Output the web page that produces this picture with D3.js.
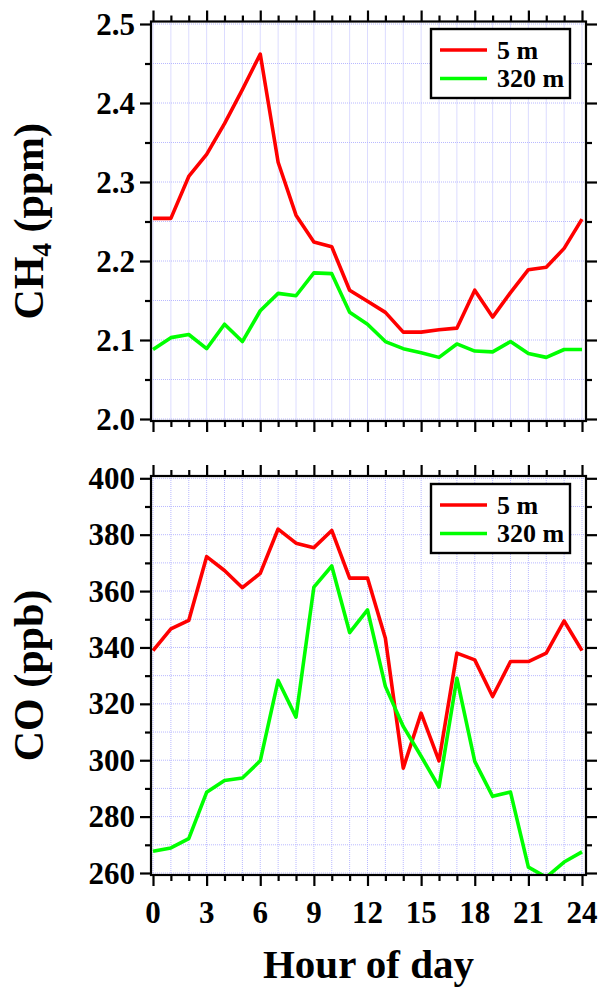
<!DOCTYPE html>
<html>
<head>
<meta charset="UTF-8">
<script src="https://d3js.org/d3.v7.min.js"></script>
<style>
  body { margin: 0; background: #fff; }
  svg text { font-family: "Liberation Serif", "Times New Roman", serif; font-weight: bold; fill: #000; }
</style>
</head>
<body>
<svg width="601" height="989"></svg>
<script>
// hour of day
const hours = d3.range(0, 25);

// CH4 (ppm)
const ch4_5m = [2.254, 2.254, 2.307, 2.335, 2.374, 2.417, 2.462, 2.325, 2.258, 2.224, 2.218, 2.163, 2.149,
  2.135, 2.110, 2.110, 2.113, 2.115, 2.163, 2.129, 2.160, 2.189, 2.192, 2.216, 2.253];
const ch4_320m = [2.088, 2.103, 2.107, 2.089, 2.120, 2.098, 2.137, 2.159, 2.156, 2.185, 2.184, 2.135, 2.120,
  2.098, 2.089, 2.084, 2.078, 2.095, 2.086, 2.085, 2.098, 2.083, 2.078, 2.088, 2.088];

// CO (ppb)
const co_5m = [338.9, 346.6, 349.6, 372.2, 367.3, 361.2, 366.3, 382.0, 377.0, 375.4, 381.5, 364.6, 364.6,
  343.3, 297.2, 316.7, 299.8, 338.0, 335.6, 322.6, 335.0, 335.0, 338.0, 349.4, 338.9];
const co_320m = [267.7, 268.9, 272.2, 288.6, 292.8, 293.7, 299.8, 328.3, 315.3, 361.4, 368.9, 345.3, 353.3,
  326.2, 312.0, 301.4, 290.5, 329.1, 299.6, 287.2, 288.7, 262.1, 258.5, 263.9, 267.5];

const xMajor = [0, 3, 6, 9, 12, 15, 18, 21, 24];
const ch4Major = [2.0, 2.1, 2.2, 2.3, 2.4, 2.5];
const ch4Minor = [2.05, 2.15, 2.25, 2.35, 2.45];
const coMajor = [260, 280, 300, 320, 340, 360, 380, 400];
const coMinor = [270, 290, 310, 330, 350, 370, 390];

const seriesNames = ["5 m", "320 m"];
const colors = ["#ff0000", "#00ff00"];

const svg = d3.select("svg");

const fL = 151, fR = 586;
const x = d3.scaleLinear().domain([0, 24]).range([153, 582]);

const panels = [
  { id: "ch4", top: 21.5, bottom: 421, domain: [2.0, 2.5], range: [419, 24],
    major: ch4Major, minor: ch4Minor, fmt: d3.format(".1f"), data: [ch4_5m, ch4_320m],
    label: "ch4", legendY: 29 },
  { id: "co", top: 476, bottom: 875, domain: [260, 400], range: [873, 478.3],
    major: coMajor, minor: coMinor, fmt: d3.format("d"), data: [co_5m, co_320m],
    label: "co", legendY: 484 }
];

panels.forEach(p => {
  const y = d3.scaleLinear().domain(p.domain).range(p.range);
  const g = svg.append("g");

  g.append("clipPath").attr("id", "clip-" + p.id)
    .append("rect").attr("x", fL).attr("y", p.top).attr("width", fR - fL).attr("height", p.bottom - p.top);

  // grid
  const grid = g.append("g").attr("stroke", "#a8a8ff").attr("stroke-width", 1)
    .attr("stroke-dasharray", "1,1").attr("opacity", 0.8);
  grid.selectAll(".gx").data(hours).join("line")
    .attr("x1", d => x(d)).attr("x2", d => x(d))
    .attr("y1", p.top).attr("y2", p.bottom);
  grid.selectAll(".gy").data(p.major.concat(p.minor)).join("line")
    .attr("x1", fL).attr("x2", fR)
    .attr("y1", d => y(d)).attr("y2", d => y(d));

  // lines
  const line = d3.line().x((d, i) => x(hours[i])).y(d => y(d));
  p.data.forEach((s, k) => {
    g.append("path").datum(s)
      .attr("clip-path", "url(#clip-" + p.id + ")")
      .attr("fill", "none").attr("stroke", colors[k]).attr("stroke-width", 3.6)
      .attr("stroke-linejoin", "round").attr("d", line);
  });

  // frame
  g.append("rect").attr("x", fL).attr("y", p.top).attr("width", fR - fL).attr("height", p.bottom - p.top)
    .attr("fill", "none").attr("stroke", "#000").attr("stroke-width", 2.2);

  // ticks
  const tickStyle = sel => {
    sel.select(".domain").remove();
    sel.selectAll(".tick line").attr("stroke", "#000").attr("stroke-width", 2.2);
  };
  const minorHours = hours.filter(h => h % 3 != 0);
  [[d3.axisTop, p.top], [d3.axisBottom, p.bottom]].forEach(([ax, yy]) => {
    g.append("g").attr("transform", `translate(0,${yy})`)
      .call(ax(x).tickValues(xMajor).tickSize(11).tickFormat("")).call(tickStyle);
    g.append("g").attr("transform", `translate(0,${yy})`)
      .call(ax(x).tickValues(minorHours).tickSize(6).tickFormat("")).call(tickStyle);
  });
  [[d3.axisLeft, fL], [d3.axisRight, fR]].forEach(([ax, xx]) => {
    g.append("g").attr("transform", `translate(${xx},0)`)
      .call(ax(y).tickValues(p.major).tickSize(11).tickFormat("")).call(tickStyle);
    g.append("g").attr("transform", `translate(${xx},0)`)
      .call(ax(y).tickValues(p.minor).tickSize(6).tickFormat("")).call(tickStyle);
  });

  // y tick labels
  g.selectAll(".ylab").data(p.major).join("text")
    .attr("x", 135).attr("y", d => y(d)).attr("dy", "0.34em")
    .attr("text-anchor", "end").style("font-size", "31px")
    .text(d => p.fmt(d));

  // y axis title
  const cy = (p.top + p.bottom) / 2;
  const t = g.append("text").attr("transform", `translate(43,${cy}) rotate(-90)`)
    .attr("text-anchor", "middle").style("font-size", "42px");
  if (p.label == "ch4") {
    t.append("tspan").text("CH");
    t.append("tspan").text("4").style("font-size", "27px").attr("dy", "8");
    t.append("tspan").text(" (ppm)").attr("dy", "-8");
  } else {
    t.text("CO (ppb)");
  }

  // legend
  const lg = g.append("g").attr("transform", `translate(431,${p.legendY})`);
  lg.append("rect").attr("width", 139).attr("height", 69)
    .attr("fill", "#fff").attr("stroke", "#000").attr("stroke-width", 2.4);
  seriesNames.forEach((n, k) => {
    const ly = 21 + k * 28.5;
    lg.append("line").attr("x1", 9).attr("x2", 56).attr("y1", ly).attr("y2", ly)
      .attr("stroke", colors[k]).attr("stroke-width", 3.6);
    lg.append("text").attr("x", 66).attr("y", ly).attr("dy", "0.34em")
      .style("font-size", "26px").text(n);
  });
});

// x tick labels
svg.selectAll(".xlab").data(xMajor).join("text")
  .attr("x", d => x(d)).attr("y", 923)
  .attr("text-anchor", "middle").style("font-size", "31px")
  .text(d => d);

svg.append("text").attr("x", (fL + fR) / 2).attr("y", 978)
  .attr("text-anchor", "middle").style("font-size", "41px").text("Hour of day");
</script>
</body>
</html>
